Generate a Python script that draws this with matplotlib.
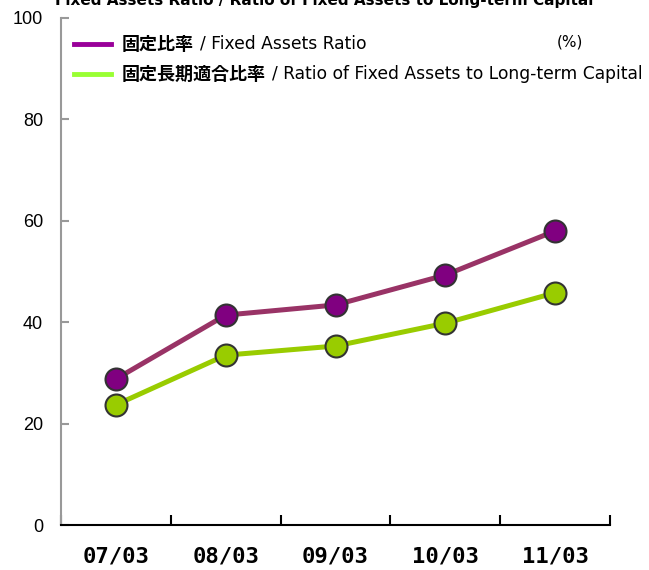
import matplotlib
matplotlib.use("Agg")
import matplotlib.pyplot as plt

periods = ["07/03", "08/03", "09/03", "10/03", "11/03"]
fixed_assets_ratio = [28.8, 41.4, 43.4, 49.3, 58.0]
long_term_ratio = [23.7, 33.5, 35.3, 39.8, 45.8]
y_ticks = [0, 20, 40, 60, 80, 100]

title = "Fixed Assets Ratio / Ratio of Fixed Assets to Long-term Capital"
legend_jp = ["固定比率", "固定長期適合比率"]
legend_en = ["/ Fixed Assets Ratio", "/ Ratio of Fixed Assets to Long-term Capital"]

plt.rcParams['font.family'] = ['DejaVu Sans', 'Noto Sans CJK JP']

W, H = 649, 570
fig = plt.figure(figsize=(W / 100, H / 100), dpi=100)
ax = fig.add_axes([61 / W, (H - 525) / H, (610 - 61) / W, (525 - 18) / H])

x = list(range(len(periods)))
ax.plot(x, fixed_assets_ratio, color='#993366', lw=3.6, zorder=2)
ax.plot(x, long_term_ratio, color='#99cc00', lw=3.6, zorder=2)
ax.scatter(x, fixed_assets_ratio, s=250, color='#800080', edgecolor='#333333', linewidth=1.5, zorder=3)
ax.scatter(x, long_term_ratio, s=250, color='#99cc00', edgecolor='#333333', linewidth=1.5, zorder=3)

ax.set_xlim(-0.5, len(periods) - 0.5)
ax.set_ylim(0, 100)
ax.set_yticks(y_ticks)
ax.set_yticklabels([str(v) for v in y_ticks], fontsize=13, family='Liberation Sans')
ax.set_xticks([i - 0.5 for i in range(len(periods) + 1)])
ax.set_xticklabels([])
for i, p in enumerate(periods):
    ax.text(i, -4.3, p, ha='center', va='top', fontsize=16, fontweight='bold',
            family='DejaVu Sans Mono')

ax.spines['top'].set_visible(False)
ax.spines['right'].set_visible(False)
ax.spines['left'].set_color('#999999')
ax.spines['left'].set_linewidth(1.5)
ax.spines['bottom'].set_color('black')
ax.spines['bottom'].set_linewidth(1.5)
ax.tick_params(axis='y', direction='in', length=6, color='#999999', width=1.5, pad=13)
ax.tick_params(axis='x', direction='in', length=7, color='black', width=1.5)

# legend drawn by hand
leg_colors = ['#990099', '#99ff33']
leg_y = [44, 74]
for c, yy, jp, en in zip(leg_colors, leg_y, legend_jp, legend_en):
    fig.add_artist(plt.Line2D([74 / W, 111 / W], [(H - yy) / H] * 2, color=c, lw=3.5))
    t = fig.text(122 / W, (H - yy) / H, jp, fontsize=13, fontweight='bold',
                 family='Noto Sans CJK JP', va='center', ha='left')
    fig.canvas.draw()
    bb = t.get_window_extent()
    fig.text((bb.x1 + 6) / W, (H - yy) / H, en, fontsize=12.3, va='center', ha='left')

fig.text(570 / W, (H - 42) / H, "(%)", fontsize=11, va='center', ha='center')
fig.text(0.5, 1.0, title, fontsize=11, fontweight='bold', va='center', ha='center')

fig.savefig("out.png", dpi=100)
